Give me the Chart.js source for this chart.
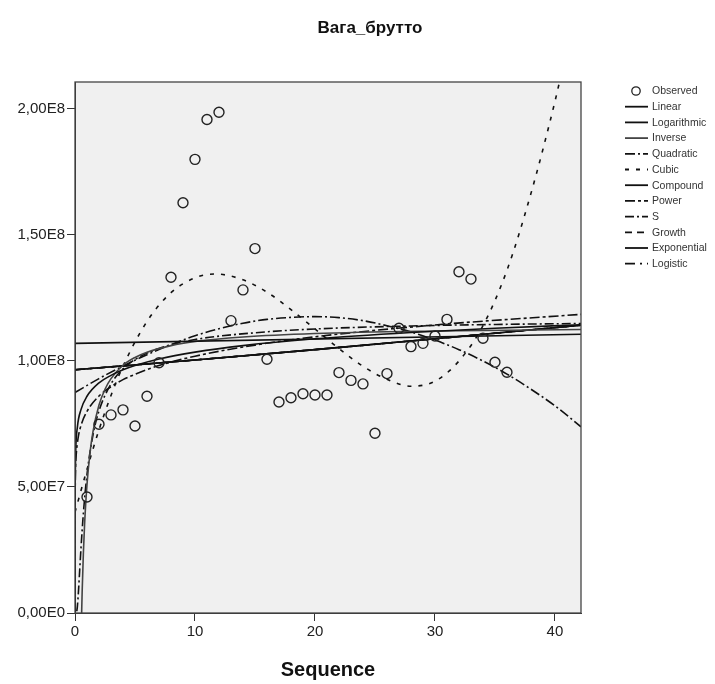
<!DOCTYPE html>
<html>
<head>
<meta charset="utf-8">
<script src="https://cdn.jsdelivr.net/npm/chart.js@4/dist/chart.umd.min.js"></script>
<style>
html,body{margin:0;padding:0;background:#fff;}
#wrap{width:715px;height:684px;}
</style>
</head>
<body>
<div id="wrap"><canvas id="c" width="715" height="684"></canvas></div>
<script>
const chartTitle = 'Вага_брутто';
const xTitle = 'Sequence';
const FONT = '"Liberation Sans", Arial, sans-serif';

// Observed
const sequence = [1,2,3,4,5,6,7,8,9,10,11,12,13,14,15,16,17,18,19,20,21,22,23,24,25,26,27,28,29,30,31,32,33,34,35,36];
const observed = [4.60e7,7.49e7,7.86e7,8.06e7,7.42e7,8.60e7,9.93e7,1.332e8,1.628e8,1.800e8,1.958e8,1.987e8,
  1.160e8,1.282e8,1.446e8,1.007e8,8.37e7,8.54e7,8.70e7,8.65e7,8.65e7,9.54e7,9.23e7,9.09e7,7.13e7,9.50e7,
  1.130e8,1.057e8,1.070e8,1.099e8,1.165e8,1.354e8,1.325e8,1.090e8,9.95e7,9.55e7];

// Fitted curves
const linearX = [0, 42.17];
const linearY = [1.070e8, 1.106e8];

const logX = [0.00002,0.001,0.01,0.05,0.2,0.5,1,2,3,4,5,7,10,14,20,28,35,42.17];
const logY = [0,3.35e7,5.1e7,6.3e7,7.38e7,8.07e7,8.6e7,9.13e7,9.43e7,9.65e7,9.82e7,1.008e8,1.035e8,1.061e8,1.088e8,1.113e8,1.130e8,1.144e8];

const inverseX = [0.553,0.6,0.7,0.8,1,1.25,1.5,2,2.5,3,4,5,6,8,10,14,20,30,42.17];
const inverseY = [0,9.0e6,2.4e7,3.53e7,5.1e7,6.36e7,7.2e7,8.25e7,8.88e7,9.3e7,9.83e7,1.014e8,1.035e8,1.061e8,1.077e8,1.095e8,1.109e8,1.119e8,1.125e8];

const quadX = [0,2,4,6,8,10,12,14,16,18,20,22,24,26,28,30,32,34,36,38,40,42.17];
const quadY = [8.75e7,9.3e7,9.8e7,1.025e8,1.065e8,1.10e8,1.128e8,1.15e8,1.165e8,1.173e8,1.176e8,1.172e8,1.16e8,1.14e8,1.115e8,1.083e8,1.045e8,1.0e8,9.48e7,8.88e7,8.22e7,7.39e7];

const cubicX = [0,1,2,3,4,6,8,10,11.7,14,16,18,20,22,24,26,28,30,32,34,36,38,40,41];
const cubicY = [4.0e7,5.7e7,7.27e7,8.63e7,9.79e7,1.157e8,1.271e8,1.33e8,1.345e8,1.322e8,1.273e8,1.204e8,1.127e8,1.049e8,9.79e7,9.27e7,9.0e7,9.2e7,1.0e8,1.14e8,1.36e8,1.665e8,2.03e8,2.24e8];

// Compound, Growth, Exponential and Logistic coincide
const compoundX = [0,10,20,30,42.17];
const compoundY = [9.65e7,1.004e8,1.045e8,1.088e8,1.142e8];

const powerX = [0,0.0001,0.01,0.05,0.1,0.25,0.5,1,2,3,4,5,7,10,15,20,30,42.17];
const powerY = [0,3.0e7,4.93e7,5.84e7,6.28e7,6.92e7,7.44e7,8.0e7,8.61e7,8.98e7,9.26e7,9.47e7,9.82e7,1.019e8,1.063e8,1.096e8,1.143e8,1.185e8];

const sX = [0.15,0.2,0.3,0.4,0.5,0.7,1,1.5,2,3,4,5,7,10,15,20,30,42.17];
const sY = [7.0e5,2.7e6,9.4e6,1.77e7,2.58e7,3.97e7,5.5e7,7.07e7,8.02e7,9.09e7,9.69e7,1.006e8,1.05e8,1.085e8,1.112e8,1.127e8,1.141e8,1.149e8];

const xTicks = [0,10,20,30,40];
const yTickValues = [0,5e7,1e8,1.5e8,2e8];
const yTickLabels = ['0,00E0','5,00E7','1,00E8','1,50E8','2,00E8'];

const pts = (xs, ys) => xs.map((x, i) => ({x: x, y: ys[i]}));

function curve(label, xs, ys, dash, color) {
  return {
    label: label, data: pts(xs, ys), showLine: true, pointRadius: 0, pointHoverRadius: 0,
    borderColor: color || '#111', borderWidth: 1.6, borderDash: dash, fill: false,
    cubicInterpolationMode: 'monotone'
  };
}

const datasets = [
  { label: 'Observed', data: pts(sequence, observed), showLine: false, pointRadius: 5,
    pointBorderColor: '#222', pointBackgroundColor: 'rgba(0,0,0,0)', pointBorderWidth: 1.4,
    borderColor: '#222' },
  curve('Linear', linearX, linearY, []),
  curve('Logarithmic', logX, logY, []),
  curve('Inverse', inverseX, inverseY, [], '#444'),
  curve('Quadratic', quadX, quadY, [10,3,2,3]),
  curve('Cubic', cubicX, cubicY, [4,7]),
  curve('Compound', compoundX, compoundY, []),
  curve('Power', powerX, powerY, [10,3,3,3]),
  curve('S', sX, sY, [9,3,2,3]),
  curve('Growth', compoundX, compoundY, [7,5]),
  curve('Exponential', compoundX, compoundY, []),
  curve('Logistic', compoundX, compoundY, [10,5,2,5])
];

const decor = {
  id: 'decor',
  beforeDraw(chart) {
    const {ctx, chartArea: a} = chart;
    ctx.save();
    ctx.fillStyle = '#F0F0F0';
    ctx.fillRect(a.left, a.top, a.right - a.left, a.bottom - a.top);
    ctx.restore();
  },
  afterDraw(chart) {
    const {ctx, chartArea: a} = chart;
    ctx.save();
    ctx.strokeStyle = '#444';
    ctx.lineWidth = 1.3;
    ctx.strokeRect(a.left, a.top, a.right - a.left, a.bottom - a.top);
    // title
    ctx.fillStyle = '#111';
    ctx.font = 'bold 17px ' + FONT;
    ctx.textAlign = 'center';
    ctx.textBaseline = 'middle';
    ctx.fillText(chartTitle, 370, 28);
    // legend
    ctx.font = '10.5px ' + FONT;
    ctx.textAlign = 'left';
    chart.data.datasets.forEach((ds, i) => {
      const y = 91 + i * 15.7;
      if (i === 0) {
        ctx.setLineDash([]);
        ctx.strokeStyle = '#222';
        ctx.lineWidth = 1.3;
        ctx.beginPath();
        ctx.arc(636, y, 4.2, 0, Math.PI * 2);
        ctx.stroke();
      } else {
        ctx.setLineDash(ds.borderDash || []);
        ctx.strokeStyle = ds.borderColor;
        ctx.lineWidth = 1.8;
        ctx.beginPath();
        ctx.moveTo(625, y);
        ctx.lineTo(648, y);
        ctx.stroke();
      }
      ctx.setLineDash([]);
      ctx.fillStyle = '#333';
      ctx.fillText(ds.label, 652, y + 0.5);
    });
    ctx.restore();
  }
};

new Chart(document.getElementById('c'), {
  type: 'scatter',
  data: { datasets: datasets },
  plugins: [decor],
  options: {
    responsive: false,
    animation: false,
    events: [],
    layout: { padding: { left: 0, right: 134, top: 82, bottom: 0 } },
    plugins: { legend: { display: false }, tooltip: { enabled: false }, title: { display: false } },
    scales: {
      x: {
        type: 'linear', min: 0, max: 42.17,
        afterBuildTicks: s => { s.ticks = xTicks.map(v => ({value: v})); },
        afterFit: s => { s.height = 71; },
        ticks: { font: { family: FONT, size: 15 }, color: '#222', padding: 2, maxRotation: 0,
                 callback: (v, i) => String(xTicks[i]) },
        grid: { drawOnChartArea: false, drawTicks: true, tickLength: 8, color: '#333', lineWidth: 1 },
        border: { display: true, color: '#333', width: 1 },
        title: { display: true, text: xTitle, font: { family: FONT, size: 20, weight: 'bold' },
                 color: '#111', padding: { top: 2, bottom: 2 } }
      },
      y: {
        type: 'linear', min: 0, max: 2.107e8,
        afterBuildTicks: s => { s.ticks = yTickValues.map(v => ({value: v})); },
        afterFit: s => { s.width = 75; },
        ticks: { font: { family: FONT, size: 15 }, color: '#222', padding: 2,
                 callback: (v, i) => yTickLabels[i] },
        grid: { drawOnChartArea: false, drawTicks: true, tickLength: 8, color: '#333', lineWidth: 1 },
        border: { display: true, color: '#333', width: 1 }
      }
    }
  }
});
</script>
</body>
</html>
